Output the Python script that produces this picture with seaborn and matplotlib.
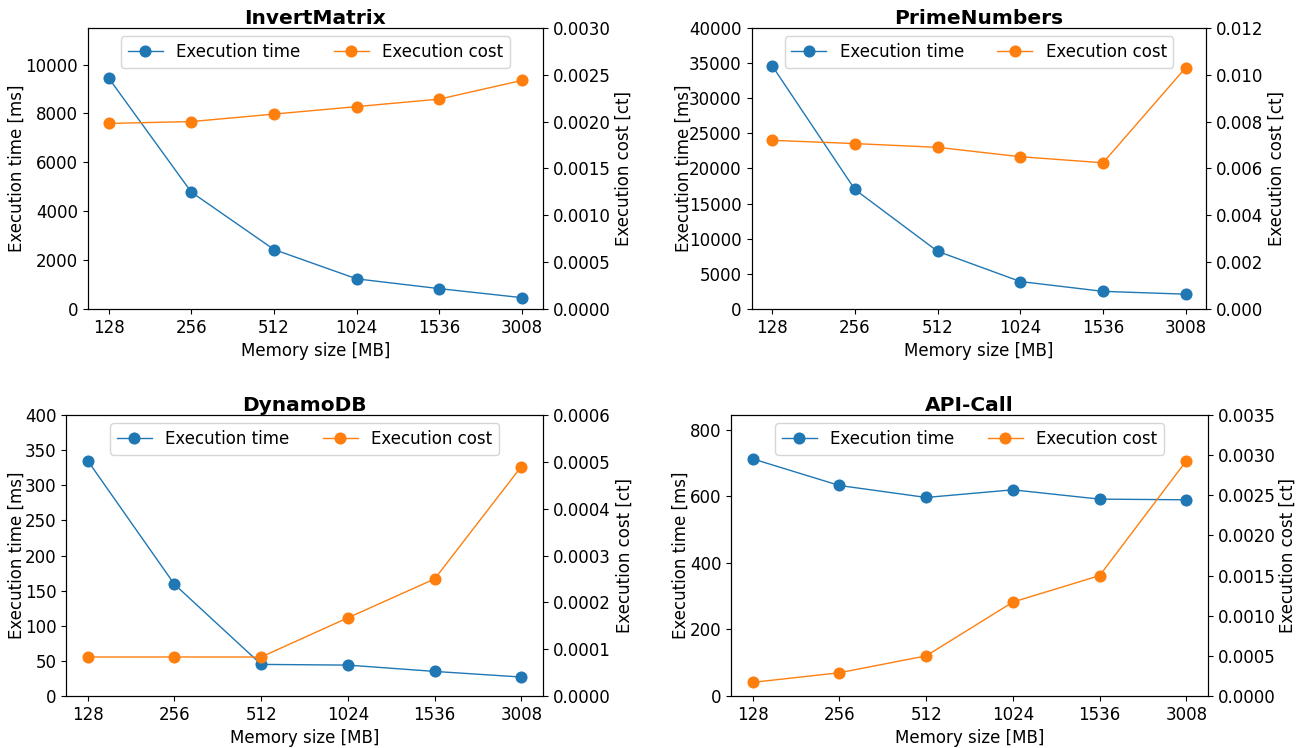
import pandas as pd
import seaborn as sns
import matplotlib.pyplot as plt
from matplotlib.transforms import blended_transform_factory

memory = ["128", "256", "512", "1024", "1536", "3008"]

titles = ["InvertMatrix", "PrimeNumbers", "DynamoDB", "API-Call"]

time_invert = [9450, 4780, 2430, 1230, 830, 460]
cost_invert = [0.00198, 0.00200, 0.00208, 0.00216, 0.00224, 0.00244]

time_prime = [34600, 17000, 8200, 3900, 2500, 2100]
cost_prime = [0.0072, 0.00706, 0.0069, 0.0065, 0.00624, 0.0103]

time_dynamo = [335, 159, 45, 44, 35, 27]
cost_dynamo = [0.0000833, 0.0000833, 0.0000833, 0.000167, 0.00025, 0.00049]

time_api = [713, 633, 597, 620, 592, 590]
cost_api = [0.00017, 0.00029, 0.0005, 0.00117, 0.0015, 0.00293]

times = [time_invert, time_prime, time_dynamo, time_api]
costs = [cost_invert, cost_prime, cost_dynamo, cost_api]
time_max = [11500, 40000, 400, 845]
cost_max = [0.0030, 0.012, 0.0006, 0.0035]

# axes boxes [left, bottom, width, height] in figure fractions
boxes = [[0.0673, 0.587, 0.348, 0.3757],
         [0.5750, 0.587, 0.348, 0.3757],
         [0.0505, 0.0695, 0.365, 0.3757],
         [0.5593, 0.0695, 0.365, 0.3757]]
# x of the y-labels in figure fractions (left label right edge, right label left edge)
left_lab = [0.020, 0.530, 0.020, 0.528]
right_lab = [0.470, 0.970, 0.471, 0.978]

fs = 12

fig = plt.figure(figsize=(13.07, 7.48), dpi=100)

for i in range(4):
    df = pd.DataFrame({"memory": memory, "time": times[i], "cost": costs[i]})
    ax = fig.add_axes(boxes[i])
    ax2 = ax.twinx()

    sns.lineplot(data=df, x="memory", y="time", ax=ax, color="#1f77b4", marker="o",
                 markersize=8.7, markeredgewidth=0, linewidth=1, sort=False,
                 label="Execution time", legend=False)
    sns.lineplot(data=df, x="memory", y="cost", ax=ax2, color="#ff7f0e", marker="o",
                 markersize=8.7, markeredgewidth=0, linewidth=1, sort=False,
                 label="Execution cost", legend=False)

    ax.set_ylim(0, time_max[i])
    ax2.set_ylim(0, cost_max[i])
    ax.set_xlim(-0.25, 5.25)

    ax.set_title(titles[i], fontsize=14.5, fontweight="bold", pad=3)
    ax.set_xlabel("Memory size [MB]", fontsize=fs)
    ax.set_ylabel("Execution time [ms]", fontsize=fs)
    ax2.set_ylabel("Execution cost [ct]", fontsize=fs)
    ax.tick_params(labelsize=fs)
    ax2.tick_params(labelsize=fs)

    ax.yaxis.set_label_coords(left_lab[i], 0.5,
                              transform=blended_transform_factory(fig.transFigure, ax.transAxes))
    ax2.yaxis.set_label_coords(right_lab[i], 0.5,
                               transform=blended_transform_factory(fig.transFigure, ax2.transAxes))

    h1, l1 = ax.get_legend_handles_labels()
    h2, l2 = ax2.get_legend_handles_labels()
    ax2.legend(h1 + h2, l1 + l2, loc="upper center", ncol=2, fontsize=fs,
               columnspacing=2.0, handlelength=2.1)

fig.savefig("out.png", dpi=100)
